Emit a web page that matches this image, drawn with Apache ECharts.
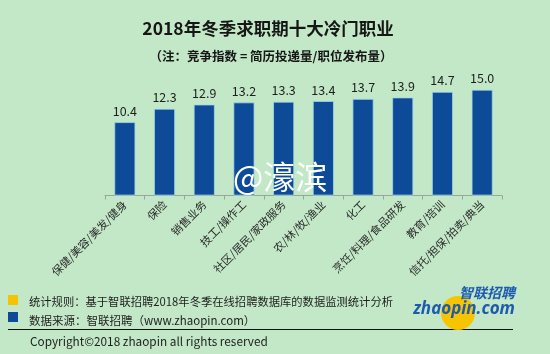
<!DOCTYPE html>
<html><head><meta charset="utf-8">
<script src="https://cdn.jsdelivr.net/npm/echarts@6/dist/echarts.min.js"></script>
<style>html,body{margin:0;padding:0;background:#c3e8c8;}#c{width:550px;height:354px;}</style>
</head><body><div id="c"></div>
<script>
const categories = ['保健/美容/美发/健身','保险','销售业务','技工/操作工','社区/居民/家政服务','农/林/牧/渔业','化工','烹饪/料理/食品研发','教育/培训','信托/担保/拍卖/典当'];
const values = [10.4, 12.3, 12.9, 13.2, 13.3, 13.4, 13.7, 13.9, 14.7, 15.0];
const titleText = '2018年冬季求职期十大冷门职业';
const subText = '（注：竞争指数 = 简历投递量/职位发布量）';
const note1 = '统计规则：基于智联招聘2018年冬季在线招聘数据库的数据监测统计分析';
const note2 = '数据来源：智联招聘（www.zhaopin.com）';
const copyright = 'Copyright©2018 zhaopin all rights reserved';
const FONT = '"Noto Sans CJK SC", "Noto Sans", sans-serif';

const chart = echarts.init(document.getElementById('c'));
chart.setOption({
  backgroundColor: '#c3e8c8',
  animation: false,
  title: [
    {text: titleText, left: 263, top: 15, textAlign: 'center',
     textStyle: {fontFamily: FONT, fontSize: 17.5, fontWeight: 'bold', color: '#161616'}},
    {text: subText, left: 266, top: 45, textAlign: 'center',
     textStyle: {fontFamily: FONT, fontSize: 12.5, fontWeight: 'bold', color: '#161616'}}
  ],
  grid: {left: 105, right: 48, top: 54.5, bottom: 158.5},
  xAxis: {
    type: 'category', data: categories,
    axisLine: {lineStyle: {color: '#9aa59c', width: 1}},
    axisTick: {show: true, length: 4, lineStyle: {color: '#9aa59c'}},
    axisLabel: {rotate: 45, interval: 0, fontFamily: FONT, fontSize: 11, color: '#2a2a2a', margin: 7}
  },
  yAxis: {type: 'value', min: 0, max: 20, show: false, splitLine: {show: false}},
  series: [{
    type: 'bar', data: values, barWidth: 21,
    itemStyle: {color: '#0d4a97', borderColor: '#9fd8e8', borderWidth: 0.8},
    label: {show: true, position: 'top', distance: 5, formatter: p => p.value.toFixed(1),
      fontFamily: FONT, fontSize: 12.5, color: '#1e1e1e'}
  }],
  graphic: [
    {type: 'text', left: 233, top: 161, z: 100,
     style: {text: '@濠滨', font: '32px ' + FONT, fill: '#ffffff',
       shadowColor: 'rgba(60,60,60,0.7)', shadowBlur: 3, shadowOffsetX: 2, shadowOffsetY: 2}},
    {type: 'rect', shape: {x: 8, y: 295, width: 10, height: 10}, style: {fill: '#f5c400'}},
    {type: 'rect', shape: {x: 8, y: 312, width: 10, height: 10}, style: {fill: '#0d4a97'}},
    {type: 'text', x: 29, y: 302, style: {text: note1, font: '11.3px ' + FONT, fill: '#1e1e1e', verticalAlign: 'middle'}},
    {type: 'text', x: 29, y: 321, style: {text: note2, font: '11.5px ' + FONT, fill: '#1e1e1e', verticalAlign: 'middle'}},
    {type: 'line', shape: {x1: 8, y1: 329.5, x2: 513, y2: 329.5}, style: {stroke: '#111', lineWidth: 1}},
    {type: 'text', x: 30, y: 342, style: {text: copyright, font: '11.8px ' + FONT, fill: '#1e1e1e', verticalAlign: 'middle'}},
    {type: 'circle', shape: {cx: 458, cy: 313, r: 17}, style: {fill: '#f6c400'}},
    {type: 'text', x: 515, y: 293, style: {text: '智联招聘', font: 'italic bold 14px ' + FONT, fill: '#1d5bb0', align: 'right', verticalAlign: 'middle'}},
    {type: 'text', x: 515, y: 309, style: {text: 'zhaopin.com', font: 'italic bold 17px "Open Sans", sans-serif', fill: '#1d5bb0', align: 'right', verticalAlign: 'middle'}}
  ]
});
</script></body></html>
